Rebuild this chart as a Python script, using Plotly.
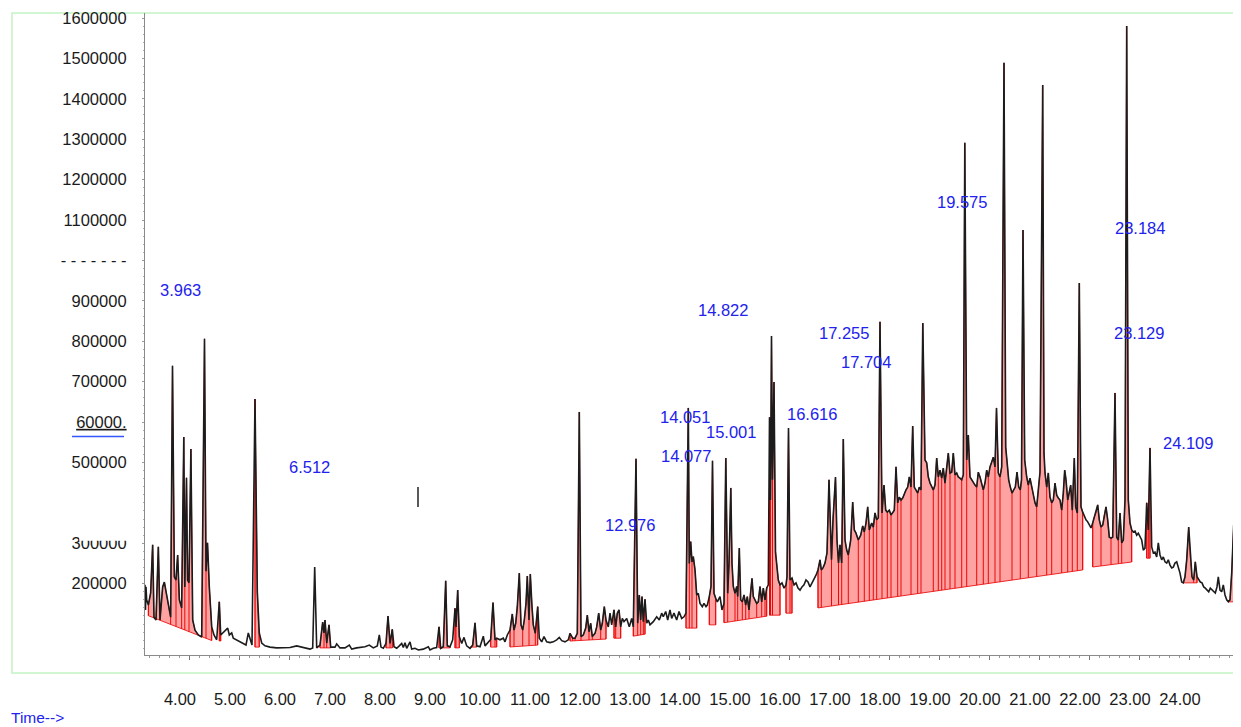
import plotly.graph_objects as go

# ---------------- data ----------------
RT = [3.12, 3.13, 3.14, 3.153, 3.187, 3.233, 3.273, 3.30, 3.34, 3.387, 3.42, 3.473, 3.507, 3.54, 3.573,
      3.607, 3.633, 3.67, 3.707, 3.74, 3.773, 3.807, 3.853, 3.896, 3.916, 3.95, 3.972, 4.00, 4.038, 4.074,
      4.12, 4.186, 4.254, 4.31, 4.34, 4.37, 4.406, 4.454, 4.50, 4.554, 4.606, 4.634, 4.686, 4.74, 4.774,
      4.806, 4.854, 4.886, 4.954, 5.02, 5.086, 5.14, 5.186, 5.22, 5.26, 5.32, 5.366, 5.406, 5.454, 5.52,
      5.62, 5.754, 5.886, 6.02, 6.154, 6.286, 6.42, 6.474, 6.514, 6.554, 6.62, 6.674, 6.70, 6.72, 6.754,
      6.80, 6.834, 6.92, 6.954, 7.02, 7.12, 7.206, 7.254, 7.354, 7.454, 7.52, 7.606, 7.686, 7.766, 7.806,
      7.84, 7.886, 7.94, 7.98, 8.02, 8.066, 8.10, 8.154, 8.206, 8.254, 8.286, 8.32, 8.354, 8.42, 8.454,
      8.52, 8.586, 8.686, 8.786, 8.82, 8.886, 8.954, 9.00, 9.034, 9.086, 9.134, 9.166, 9.22, 9.274, 9.32,
      9.34, 9.374, 9.406, 9.454, 9.50, 9.554, 9.62, 9.674, 9.72, 9.754, 9.82, 9.886, 9.92, 9.986, 10.034,
      10.08, 10.12, 10.154, 10.22, 10.286, 10.32, 10.366, 10.42, 10.466, 10.50, 10.534, 10.566, 10.606,
      10.64, 10.674, 10.706, 10.74, 10.766, 10.80, 10.826, 10.86, 10.886, 10.926, 10.974, 11.006, 11.054,
      11.10, 11.154, 11.22, 11.286, 11.354, 11.406, 11.454, 11.52, 11.586, 11.62, 11.674, 11.72, 11.766,
      11.806, 11.84, 11.886, 11.934, 11.966, 12.00, 12.034, 12.066, 12.12, 12.154, 12.194, 12.234, 12.266,
      12.306, 12.34,
      12.386, 12.42, 12.454, 12.50, 12.534, 12.566, 12.60, 12.634, 12.666, 12.70, 12.754, 12.806, 12.854,
      12.886, 12.94, 12.974, 13.006, 13.034, 13.06, 13.086, 13.12, 13.154, 13.186, 13.22, 13.286, 13.354,
      13.406, 13.454, 13.486, 13.534, 13.574, 13.62, 13.654, 13.70, 13.754, 13.80, 13.854, 13.90, 13.94,
      13.986, 14.006, 14.034, 14.06, 14.086, 14.12, 14.154, 14.186, 14.22, 14.266, 14.30, 14.34, 14.366,
      14.406, 14.44, 14.47, 14.50, 14.534, 14.566, 14.62, 14.66, 14.70, 14.736, 14.774, 14.80, 14.836,
      14.86, 14.886, 14.92, 14.954, 14.974, 15.006, 15.034, 15.066, 15.10, 15.134, 15.166, 15.20, 15.234,
      15.26, 15.286, 15.32, 15.354, 15.386, 15.42, 15.454, 15.486, 15.52, 15.554, 15.586, 15.61, 15.63,
      15.65, 15.67, 15.70, 15.73, 15.76, 15.786, 15.82, 15.86, 15.90, 15.94, 15.96, 15.99, 16.02, 16.06,
      16.10, 16.14, 16.18, 16.22, 16.26, 16.30, 16.34, 16.38, 16.42, 16.46, 16.50, 16.54, 16.58, 16.62,
      16.646, 16.68, 16.72, 16.76, 16.80, 16.85, 16.88, 16.93, 16.96, 16.99, 17.02, 17.054, 17.086, 17.12,
      17.154, 17.186, 17.234, 17.274, 17.306, 17.34, 17.386, 17.434, 17.474, 17.506, 17.54, 17.574,
      17.606, 17.654, 17.686, 17.72, 17.754, 17.786, 17.82, 17.86, 17.90, 17.934, 17.966, 18.006, 18.04,
      18.074, 18.106, 18.14, 18.174, 18.206, 18.24, 18.274, 18.306, 18.34, 18.374, 18.406, 18.44, 18.474,
      18.506, 18.54, 18.574, 18.606, 18.64, 18.676, 18.72, 18.754, 18.786, 18.82, 18.854, 18.886, 18.92,
      18.954, 18.986, 19.02, 19.054, 19.086, 19.12, 19.154, 19.186, 19.22, 19.254, 19.286, 19.32, 19.354,
      19.386, 19.42, 19.454, 19.486, 19.516, 19.554, 19.586, 19.62, 19.654, 19.686, 19.72, 19.754, 19.786,
      19.82, 19.854, 19.886, 19.92, 19.954, 19.986, 20.02, 20.054, 20.086, 20.12, 20.15, 20.186, 20.22,
      20.254, 20.30, 20.334, 20.36, 20.394, 20.426, 20.46, 20.494, 20.526, 20.56, 20.594, 20.626, 20.65,
      20.68, 20.714, 20.754, 20.786, 20.82, 20.854, 20.886, 20.92, 20.954, 21.02, 21.074, 21.10, 21.12,
      21.154, 21.186, 21.22, 21.254, 21.286, 21.32, 21.354, 21.386, 21.42, 21.454, 21.486, 21.514, 21.54,
      21.574, 21.606, 21.634, 21.666, 21.706, 21.734, 21.766, 21.806, 21.84, 21.874, 21.906, 21.94,
      21.974, 22.006, 22.04, 22.074, 22.106, 22.14, 22.174, 22.206, 22.24, 22.274, 22.306, 22.34, 22.374,
      22.406, 22.44, 22.474, 22.52, 22.554, 22.586, 22.62, 22.654, 22.686, 22.72, 22.754, 22.786, 22.82,
      22.854, 22.886, 22.92, 22.954, 22.986, 23.02, 23.054, 23.086, 23.12, 23.154, 23.186, 23.22, 23.254,
      23.286, 23.32, 23.354, 23.386, 23.42, 23.454, 23.486, 23.52, 23.554, 23.586, 23.62, 23.654, 23.686,
      23.72, 23.754, 23.786, 23.82, 23.854, 23.886, 23.92, 23.954, 23.994, 24.026, 24.06, 24.094, 24.126,
      24.16, 24.194, 24.226, 24.26, 24.294, 24.326, 24.36, 24.394, 24.426, 24.46, 24.494, 24.526, 24.56,
      24.586, 24.62, 24.654, 24.686, 24.72, 24.754, 24.786, 24.82, 24.854, 24.894, 24.926, 24.96, 24.994,
      25.02]

ABUNDANCE = [197000, 135000, 192000, 160000, 147000, 177000, 296000, 117000, 110000, 291000, 110000,
             192000, 204000, 180000, 160000, 135000, 117000, 739000, 217000, 209000, 271000, 160000,
             140000, 563000, 192000, 462000, 209000, 202000, 533000, 110000, 85000, 73000, 68000, 806000,
             231000, 301000, 192000, 93000, 73000, 61000, 155000, 73000, 80000, 85000, 90000, 73000,
             78000, 65000, 61000, 56000, 53000, 48000, 78000, 65000, 48000, 657000, 180000, 78000, 53000,
             46000, 43000, 41000, 41000, 42000, 46000, 42000, 38000, 41000, 241000, 41000, 48000, 105000,
             78000, 110000, 53000, 98000, 43000, 43000, 51000, 41000, 41000, 48000, 38000, 41000, 42000,
             44000, 48000, 41000, 46000, 73000,
             43000, 40000, 52000, 120000, 52000, 87000, 44000, 40000, 46000, 52000, 42000, 54000, 40000,
             56000, 38000, 40000, 36000, 38000, 44000, 36000, 40000, 42000, 93000, 40000, 44000, 207000,
             46000, 44000, 61000, 139000, 93000, 184000, 69000, 52000, 67000, 46000, 40000, 48000, 103000,
             46000, 44000, 70000, 46000, 56000, 62000, 153000, 61000, 65000, 61000, 65000, 56000, 73000,
             85000, 125000, 85000, 102000, 143000, 226000, 98000, 85000, 110000, 151000, 219000, 110000,
             224000, 143000, 98000, 77000, 143000, 65000, 56000, 69000, 56000, 54000, 56000, 61000, 67000,
             59000, 56000, 61000, 77000, 65000, 65000, 77000, 625000, 69000, 73000, 90000, 122000, 81000,
             102000, 69000, 77000, 93000, 127000, 85000, 102000, 143000, 110000,
             93000, 127000, 98000, 135000, 93000, 127000, 135000, 93000, 114000, 106000, 114000, 93000,
             114000, 93000, 509000, 102000, 172000, 110000, 168000, 106000, 161000, 102000, 110000, 98000,
             106000, 118000, 110000, 127000, 118000, 131000, 110000, 135000, 114000, 127000, 110000,
             131000, 114000, 118000, 127000, 635000, 250000, 304000, 254000, 267000, 234000, 172000,
             176000, 151000, 143000, 151000, 143000, 147000, 168000, 193000, 504000, 176000, 164000,
             155000, 168000, 135000, 151000, 511000, 176000, 250000, 437000, 250000, 193000, 176000,
             193000, 168000, 288000, 160000, 155000, 172000, 147000, 168000, 135000, 184000, 213000,
             168000, 160000, 151000, 155000, 193000, 155000, 189000, 160000, 189000, 197000, 612000,
             407000, 813000, 457000, 699000, 278000, 241000, 209000, 197000, 202000, 189000, 197000,
             217000, 585000, 209000, 214000, 197000, 202000, 189000, 184000, 192000, 197000, 209000,
             204000, 192000, 202000, 209000, 221000, 234000, 259000, 234000, 239000, 251000, 276000,
             457000, 259000, 358000, 464000, 308000, 251000, 296000, 251000, 558000, 308000, 283000,
             271000, 308000, 402000, 333000, 325000, 308000, 320000, 343000, 328000, 350000, 390000,
             333000, 350000, 340000, 375000, 358000, 363000, 848000, 375000, 444000, 382000, 377000,
             382000, 370000, 375000, 382000, 489000, 400000, 414000, 407000, 412000, 424000, 432000,
             439000, 464000, 439000, 590000, 439000, 432000, 424000, 439000, 432000, 845000, 506000,
             499000, 464000, 449000, 439000, 432000, 444000, 511000, 464000, 481000, 461000, 486000,
             449000, 494000, 523000, 474000, 476000, 523000, 469000, 474000, 464000, 461000, 457000,
             469000, 1291000, 506000, 568000, 464000, 457000, 449000, 444000, 439000, 476000, 464000,
             444000, 432000, 449000, 481000, 464000, 489000, 501000, 513000, 489000, 635000, 474000,
             464000, 489000, 1489000, 538000, 501000, 457000, 439000, 424000, 432000, 439000, 476000,
             439000, 432000, 457000, 1075000, 506000, 464000, 444000, 461000, 439000, 424000, 400000,
             390000, 476000, 1434000, 523000, 474000, 439000, 474000, 414000, 400000, 407000, 449000,
             419000, 412000, 407000, 382000, 424000, 481000, 457000, 407000, 424000, 444000, 382000,
             511000, 390000, 375000, 944000, 390000, 377000, 365000, 358000, 353000, 345000, 338000,
             350000, 365000, 375000, 395000, 358000, 340000, 345000, 370000, 390000, 358000, 315000,
             313000, 315000, 672000, 315000, 308000, 375000, 301000, 308000, 407000, 1580000, 407000,
             350000, 333000, 328000, 330000, 320000, 325000, 315000, 308000, 283000, 288000, 400000,
             333000, 536000, 291000, 276000, 278000, 266000, 301000, 271000, 259000, 266000, 254000,
             251000, 259000, 246000, 239000, 241000, 251000, 254000, 241000, 226000, 204000, 202000,
             217000, 259000, 340000, 266000, 217000, 209000, 254000, 217000, 209000, 204000, 202000,
             192000, 189000, 184000, 180000, 189000, 184000, 180000, 177000, 192000, 217000, 184000,
             180000, 197000, 172000, 160000, 155000, 160000, 226000, 345000, 241000, 177000, 165000,
             162000]

# integrated regions: (start time, end time, baseline at start, baseline at end)
INTEGRATIONS = [
    (3.16, 4.48, 122000, 58000), (4.56, 4.66, 58000, 58000), (5.28, 5.44, 43000, 43000),
    (6.56, 6.84, 41000, 41000), (7.90, 8.08, 41000, 41000), (8.96, 9.22, 41000, 41000),
    (9.30, 9.42, 41000, 41000), (9.62, 9.78, 43000, 43000), (10.02, 10.16, 43000, 43000),
    (10.38, 10.98, 43000, 48000), (11.62, 12.36, 58000, 63000), (12.48, 12.66, 65000, 65000),
    (12.88, 13.12, 70000, 75000), (13.94, 14.16, 90000, 90000), (14.38, 14.56, 98000, 98000),
    (14.68, 15.58, 103000, 120000), (15.60, 15.82, 122000, 122000), (15.94, 16.06, 127000, 127000),
    (16.58, 21.88, 140000, 234000), (22.06, 22.88, 241000, 254000), (23.14, 23.22, 263000, 263000),
    (23.88, 24.18, 202000, 202000), (24.78, 25.02, 155000, 155000),
]

# peak retention-time labels: (text, time, abundance)
PEAK_LABELS = [
    ("3.963", 3.82, 927000), ("6.512", 6.40, 489000), ("12.976", 12.81, 345000),
    ("14.051", 13.91, 612000), ("14.077", 13.94, 515000), ("14.822", 14.67, 877000),
    ("15.001", 14.84, 575000), ("16.616", 16.46, 620000), ("17.255", 17.095, 820000),
    ("17.704", 17.54, 749000), ("19.575", 19.45, 1144000), ("23.184", 23.02, 1080000),
    ("23.129", 22.99, 820000), ("24.109", 23.97, 548000),
]

X_TICKS = [4, 5, 6, 7, 8, 9, 10, 11, 12, 13, 14, 15, 16, 17, 18, 19, 20, 21, 22, 23, 24]
X_TICKTEXT = ["%.2f" % v for v in X_TICKS]
Y_TICKS = [1600000, 1500000, 1400000, 1300000, 1200000, 1100000, 1000000, 900000, 800000, 700000,
           600000, 500000, 300000, 200000]
Y_TICKTEXT = ["1600000", "1500000", "1400000", "1300000", "1200000", "1100000", "- - - - - - -",
              "900000", "800000", "700000", "<u>60000.</u>", "500000", "300000", "200000"]
MARK = (8.58, 390000, 439000)   # small stray vertical mark

# ---------------- figure ----------------
BLUE = "#2222ee"
FONT = "Liberation Sans, Arial, sans-serif"

fill_x, fill_y, vx, vy = [], [], [], []
for t0, t1, b0, b1 in INTEGRATIONS:
    idx = [i for i, t in enumerate(RT) if t0 <= t <= t1]
    if len(idx) < 2:
        continue
    xs = [RT[i] for i in idx]
    ys = [ABUNDANCE[i] for i in idx]

    def base(t):
        return b0 + (b1 - b0) * (t - t0) / (t1 - t0)

    fill_x += [xs[0]] + xs + [xs[-1], xs[0], None]
    fill_y += [base(xs[0])] + ys + [base(xs[-1]), base(xs[0]), None]
    for k in range(len(xs)):
        is_min = 0 < k < len(xs) - 1 and ys[k] <= ys[k - 1] and ys[k] <= ys[k + 1]
        if is_min or k == 0 or k == len(xs) - 1:
            vx += [xs[k], xs[k], None]
            vy += [base(xs[k]), ys[k], None]

fig = go.Figure()
fig.add_trace(go.Scatter(x=fill_x, y=fill_y, mode="lines", fill="toself",
                         fillcolor="rgba(255,60,60,0.48)",
                         line=dict(color="rgba(235,20,20,0.9)", width=1), hoverinfo="skip"))
fig.add_trace(go.Scatter(x=vx, y=vy, mode="lines",
                         line=dict(color="rgba(235,0,0,0.95)", width=1), hoverinfo="skip"))
fig.add_trace(go.Scatter(x=RT, y=ABUNDANCE, mode="lines",
                         line=dict(color="#1c1c1c", width=1.6)))

for txt, t, v in PEAK_LABELS:
    fig.add_annotation(x=t, y=v, text=txt, showarrow=False, xanchor="center", yanchor="middle",
                       font=dict(family=FONT, size=16.5, color=BLUE))

fig.add_annotation(xref="paper", yref="paper", x=-0.1245, y=-0.098, text="Time-->",
                   showarrow=False, xanchor="left", yanchor="middle",
                   font=dict(family=FONT, size=15.5, color=BLUE))

fig.add_shape(type="line", x0=MARK[0], x1=MARK[0], y0=MARK[1], y1=MARK[2],
              line=dict(color="#222", width=1.5))

# light green frame
fig.add_shape(type="rect", xref="paper", yref="paper", x0=-0.1215, x1=1.0009, y0=-0.028, y1=1.0,
              line=dict(color="#c4f3c4", width=1.5), layer="below")
# blue underline below the "60000." label
fig.add_shape(type="line", xref="paper", yref="paper", x0=-0.0667, x1=-0.0192, y0=0.3405, y1=0.3405,
              line=dict(color="#3355ff", width=1.5))
# the top of the "300000" label is cut off in the reference
fig.add_shape(type="rect", xref="paper", yref="paper", x0=-0.06, x1=-0.012, y0=0.178, y1=0.193,
              line=dict(width=0), fillcolor="white")

# the page body has an 8px default margin, so the figure is sized to end at the window edge
fig.update_layout(
    width=1233, height=719, autosize=False,
    margin=dict(l=137, r=1, t=5, b=72, autoexpand=False),
    paper_bgcolor="white", plot_bgcolor="white",
    showlegend=False,
    font=dict(family=FONT, size=16.5, color="#1a1a1a"),
)
fig.update_xaxes(range=[3.12, 25.02], tickvals=X_TICKS, ticktext=X_TICKTEXT, automargin=False,
                 showgrid=False, zeroline=False, showline=True, linecolor="#8a8a8a", linewidth=1,
                 ticks="outside", ticklen=4, tickcolor="#777", tickwidth=1,
                 ticklabelshift=-9, ticklabelstandoff=25,
                 tickfont=dict(family=FONT, size=16.5, color="#1a1a1a"),
                 minor=dict(dtick=0.2, ticks="outside", ticklen=2, tickcolor="#999"))
fig.update_yaxes(range=[23425, 1612375], tickvals=Y_TICKS, ticktext=Y_TICKTEXT, automargin=False,
                 showgrid=False, zeroline=False, showline=True, linecolor="#8a8a8a", linewidth=1.2,
                 ticks="outside", ticklen=2, tickcolor="#999",
                 ticklabelstandoff=12,
                 tickfont=dict(family=FONT, size=16.5, color="#1a1a1a"),
                 minor=dict(dtick=20000, ticks="outside", ticklen=1, tickcolor="#aaa"))

fig.write_html("out.html")
